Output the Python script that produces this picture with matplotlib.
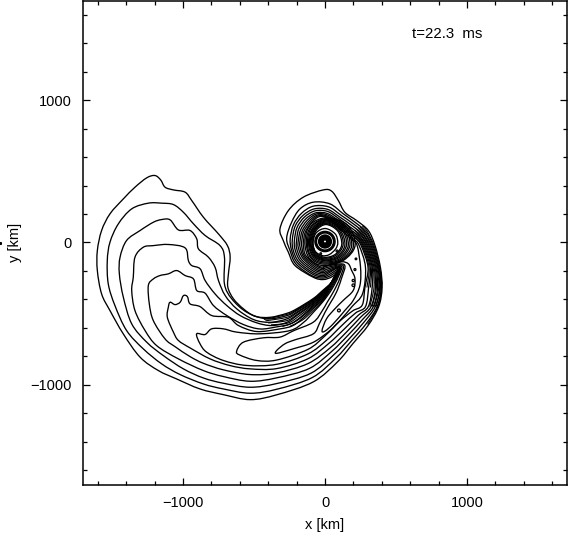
#!/usr/bin/env python3
"""Contour plot of a spiral density structure at t=22.3 ms."""

import matplotlib
matplotlib.use("Agg")
import matplotlib.pyplot as plt
from matplotlib.patches import Circle, PathPatch
from matplotlib.path import Path
from matplotlib.ticker import MultipleLocator
import numpy as np

# contour outlines in km
contour_1 = [(-1197,470),(-1157,439),(-1126,388),(-1067,369),(-985,353),(-938,294),(-856,177),(-750,60),(-687,-22),(-668,-103),(-680,-220),(-684,-314),(-644,-396),(-574,-466),(-492,-518),(-386,-525),(-268,-497),(-200,-466),(-82,-393),(-20,-340),(47,-279),(105,-197),(50,-240),(-12,-260),(-82,-244),(-211,-162),(-258,-68),(-294,14),(-317,96),(-258,224),(-153,318),(-12,369),(47,360),(94,294),(140,212),(223,154),(305,84),(352,-21),(390,-174),(402,-316),(378,-450),(303,-583),(197,-709),(88,-838),(-82,-978),(-340,-1069),(-527,-1103),(-715,-1068),(-880,-1028),(-1044,-958),(-1173,-899),(-1302,-805),(-1420,-642),(-1514,-478),(-1573,-361),(-1603,-197),(-1603,-57),(-1573,84),(-1514,201),(-1420,306),(-1338,388),(-1255,454)]
contour_2 = [(-1244,276),(-1150,276),(-1067,266),(-997,212),(-926,131),(-844,49),(-739,-22),(-708,-103),(-708,-291),(-656,-396),(-550,-490),(-410,-536),(-268,-513),(-200,-478),(-82,-404),(-15,-345),(40,-290),(100,-195),(40,-232),(-15,-250),(-94,-232),(-205,-150),(-245,-60),(-270,30),(-235,142),(-176,236),(-82,283),(35,271),(129,201),(211,142),(288,76),(338,-21),(380,-174),(395,-316),(367,-450),(290,-570),(187,-690),(76,-812),(-90,-948),(-340,-1030),(-527,-1058),(-715,-1028),(-856,-993),(-1020,-927),(-1150,-852),(-1279,-747),(-1397,-618),(-1479,-443),(-1526,-291),(-1533,-127),(-1514,2),(-1455,131),(-1361,236)]
contour_3 = [(-1150,161),(-1091,159),(-1032,88),(-950,84),(-903,25),(-891,-45),(-821,-103),(-774,-174),(-750,-267),(-703,-372),(-621,-466),(-503,-541),(-386,-560),(-268,-536),(-195,-492),(-82,-416),(-15,-355),(33,-300),(95,-190),(35,-222),(-15,-241),(-88,-222),(-195,-142),(-235,-55),(-245,25),(-222,125),(-165,205),(-82,255),(25,250),(115,190),(198,132),(275,68),(324,-21),(370,-174),(385,-316),(354,-450),(278,-555),(176,-670),(62,-788),(-100,-918),(-340,-990),(-527,-1016),(-715,-988),(-856,-951),(-997,-887),(-1138,-794),(-1255,-700),(-1361,-571),(-1420,-384),(-1448,-220),(-1443,-103),(-1397,14),(-1302,84),(-1209,142)]
contour_4 = [(-1279,-33),(-1209,-22),(-1103,-14),(-985,-38),(-962,-127),(-938,-162),(-879,-185),(-844,-267),(-774,-361),(-691,-443),(-597,-513),(-480,-564),(-374,-583),(-268,-560),(-190,-507),(-82,-430),(-12,-365),(28,-310),(92,-182),(30,-212),(-15,-232),(-85,-212),(-185,-135),(-225,-50),(-230,20),(-210,115),(-155,190),(-75,236),(20,232),(105,178),(185,122),(262,60),(310,-21),(358,-174),(370,-316),(340,-450),(265,-540),(163,-650),(50,-762),(-110,-884),(-340,-950),(-527,-974),(-715,-941),(-856,-899),(-1032,-817),(-1185,-724),(-1267,-618),(-1338,-478),(-1361,-337),(-1350,-244),(-1338,-103)]
contour_5 = [(-1162,-232),(-1103,-220),(-1044,-197),(-985,-232),(-926,-256),(-903,-337),(-844,-356),(-785,-443),(-691,-513),(-574,-576),(-457,-607),(-339,-592),(-245,-572),(-170,-522),(-82,-445),(-8,-378),(25,-318),(78,-228),(100,-175),(25,-205),(-15,-222),(-80,-202),(-175,-127),(-212,-45),(-215,18),(-197,105),(-145,178),(-70,222),(18,218),(97,168),(172,112),(250,52),(296,-21),(345,-174),(355,-316),(324,-450),(250,-525),(150,-630),(38,-738),(-120,-850),(-340,-915),(-527,-927),(-715,-894),(-856,-848),(-950,-801),(-1056,-731),(-1126,-677),(-1209,-548),(-1237,-431),(-1244,-302),(-1209,-256)]
contour_6 = [(-1091,-419),(-1056,-436),(-1020,-419),(-997,-373),(-969,-380),(-950,-431),(-880,-450),(-797,-513),(-680,-525),(-609,-583),(-480,-625),(-315,-606),(-230,-585),(-160,-535),(-82,-462),(-15,-400),(35,-325),(85,-235),(105,-170),(20,-197),(-15,-212),(-75,-192),(-165,-120),(-200,-40),(-200,15),(-185,95),(-135,166),(-65,208),(15,204),(90,158),(160,104),(237,45),(282,-21),(332,-174),(332,-316),(305,-450),(235,-510),(135,-608),(25,-710),(-120,-816),(-340,-885),(-527,-887),(-668,-864),(-809,-817),(-950,-740),(-1032,-688),(-1067,-630),(-1110,-525),(-1103,-454)]
contour_7 = [(-904,-641),(-845,-646),(-798,-606),(-716,-606),(-622,-629),(-458,-641),(-246,-618),(-150,-560),(-82,-490),(-12,-412),(47,-330),(94,-240),(115,-165),(15,-187),(-15,-202),(-70,-183),(-155,-112),(-188,-35),(-188,12),(-172,88),(-125,156),(-60,200),(12,195),(85,150),(150,98),(225,38),(268,-21),(318,-174),(307,-316),(285,-450),(215,-495),(118,-583),(12,-685),(-120,-782),(-340,-855),(-552,-863),(-716,-828),(-833,-770),(-880,-711)]
contour_8 = [(-622,-763),(-575,-700),(-434,-669),(-317,-664),(-223,-620),(-82,-559),(-20,-480),(15,-420),(60,-345),(105,-250),(125,-160),(10,-177),(-15,-192),(-65,-174),(-148,-105),(-176,-30),(-176,10),(-160,82),(-115,148),(-55,192),(10,187),(78,142),(142,92),(212,32),(254,-21),(303,-174),(281,-316),(262,-440),(195,-480),(100,-555),(0,-655),(-120,-750),(-340,-825),(-481,-828),(-600,-790)]
contour_9 = [(-340,-758),(-282,-711),(-211,-683),(-82,-641),(-40,-570),(0,-490),(40,-420),(80,-350),(115,-255),(135,-155),(5,-167),(-15,-182),(-60,-165),(-142,-98),(-164,-25),(-164,8),(-150,76),(-105,142),(-50,186),(8,181),(72,135),(135,85),(200,25),(240,-21),(285,-174),(265,-358),(190,-450),(106,-547),(35,-618),(-82,-700),(-223,-746),(-340,-778)]
contour_10 = [(-21,-618),(0,-622),(58,-571),(140,-477),(199,-406),(246,-301),(250,-172),(226,-21),(190,20),(125,78),(68,128),(8,175),(-45,180),(-98,135),(-140,70),(-152,5),(-152,-22),(-135,-92),(-55,-158),(-15,-172),(50,-150),(120,-135),(165,-150),(187,-195),(211,-254),(199,-336),(129,-406),(70,-465),(11,-535)]

# closed rings round the core, outer to inner
ring_11 = [(212,-20),(160,120),(20,174),(-100,128),(-142,5),(-108,-115),(-10,-162),(130,-125)]
ring_12 = [(200,-25),(150,115),(18,168),(-93,120),(-132,8),(-100,-108),(-8,-152),(125,-120)]
ring_13 = [(188,-22),(142,110),(15,162),(-88,116),(-124,3),(-95,-103),(-5,-144),(118,-116)]
ring_14 = [(176,-18),(133,104),(12,156),(-82,108),(-116,6),(-88,-96),(-6,-136),(108,-112)]
ring_15 = [(164,-20),(124,98),(12,150),(-78,104),(-110,4),(-84,-90),(-4,-128),(100,-106)]
ring_16 = [(152,-16),(115,94),(10,144),(-74,98),(-104,5),(-78,-86),(-4,-122),(92,-102)]
ring_17 = [(140,-18),(106,88),(10,138),(-70,94),(-98,2),(-74,-82),(-2,-116),(86,-96)]
ring_18 = [(128,-14),(98,84),(8,132),(-66,90),(-92,5),(-70,-78),(-2,-110),(80,-88)]
ring_19 = [(118,-15),(90,80),(8,126),(-62,84),(-86,3),(-65,-73),(0,-104),(74,-82)]
ring_20 = [(90,0),(72,60),(4,98),(-60,70),(-84,5),(-70,-60),(-20,-92),(30,-85),(75,-45)]

# extra lines in the dense band above the arm
band_a = [(-430,-540),(-268,-505),(-200,-472),(-82,-398),(-18,-342),(43,-284),(102,-196)]
band_b = [(-420,-550),(-268,-525),(-195,-485),(-82,-410),(-15,-350),(36,-295),(97,-192)]
band_c = [(-400,-565),(-268,-548),(-190,-500),(-82,-423),(-12,-360),(30,-305),(93,-186)]
band_d = [(-380,-578),(-260,-565),(-180,-514),(-82,-438),(-10,-372),(27,-314),(85,-205)]
band_e = [(-300,-590),(-200,-550),(-82,-454),(-12,-390),(30,-322),(82,-232),(103,-172)]
band_f = [(-250,-590),(-160,-545),(-82,-476),(-14,-406),(40,-328),(90,-238),(110,-168)]

# extra lines on the right side of the arm
right_a = [(262,118),(296,80),(345,-21),(385,-174),(398,-316),(372,-450),(300,-575)]
right_b = [(248,110),(281,72),(331,-21),(375,-174),(390,-316),(360,-450)]
right_c = [(235,102),(268,64),(317,-21),(364,-174),(378,-316),(347,-450)]
right_d = [(222,94),(256,56),(303,-21),(352,-174),(362,-316),(332,-450)]
right_e = [(210,86),(243,48),(289,-21),(338,-174),(345,-316),(315,-450)]
right_f = [(198,78),(231,42),(275,-21),(325,-174),(320,-316)]
right_g = [(186,70),(218,35),(261,-21),(310,-174),(295,-316)]

# core circles and the small closed islands
core_center = (0, 7)
core_radii = [12, 15, 18, 21, 24, 27, 30, 33, 36, 39, 42, 45, 60, 65, 71]
island_x = [98, 199, 199, 211, 218, -87, 85, -30]
island_y = [-477, -267, -300, -190, -115, -45, -60, -78]
island_r = [10, 8, 9, 7, 6, 8, 7, 6]

major_ticks = [-1000, 0, 1000]
tick_labels = ["\u22121000", "0", "1000"]
time_label = "t=22.3  ms"


def closed_path(points):
    # Catmull-Rom through the read points, as cubic beziers
    pts = np.array(points, dtype=float)
    n = len(pts)
    verts = [pts[0]]
    codes = [Path.MOVETO]
    for i in range(n):
        p0, p1, p2, p3 = pts[i - 1], pts[i], pts[(i + 1) % n], pts[(i + 2) % n]
        verts += [p1 + (p2 - p0) / 6, p2 - (p3 - p1) / 6, p2]
        codes += [Path.CURVE4] * 3
    return Path(verts, codes)


def open_path(points):
    pts = np.array(points, dtype=float)
    n = len(pts)
    verts = [pts[0]]
    codes = [Path.MOVETO]
    for i in range(n - 1):
        p0, p1, p2, p3 = pts[max(i - 1, 0)], pts[i], pts[i + 1], pts[min(i + 2, n - 1)]
        verts += [p1 + (p2 - p0) / 6, p2 - (p3 - p1) / 6, p2]
        codes += [Path.CURVE4] * 3
    return Path(verts, codes)


def main():
    plt.rcParams["font.family"] = ["Liberation Sans", "DejaVu Sans"]
    fig = plt.figure(figsize=(5.72, 5.36), dpi=100)
    ax = fig.add_axes([83 / 572, 51.3 / 536, 484 / 572, 483.7 / 536])

    contours = [contour_1, contour_2, contour_3, contour_4, contour_5,
                contour_6, contour_7, contour_8, contour_9, contour_10,
                ring_11, ring_12, ring_13, ring_14, ring_15, ring_16,
                ring_17, ring_18, ring_19, ring_20]
    for points in contours:
        ax.add_patch(PathPatch(closed_path(points), fill=False, ec="black", lw=0.95))

    extra_lines = [band_a, band_b, band_c, band_d, band_e, band_f,
                   right_a, right_b, right_c, right_d, right_e, right_f, right_g]
    for points in extra_lines:
        ax.add_patch(PathPatch(open_path(points), fill=False, ec="black", lw=0.8))

    for r in core_radii:
        ax.add_patch(Circle(core_center, r, fill=False, ec="black", lw=1.0))
    for x, y, r in zip(island_x, island_y, island_r):
        ax.add_patch(Circle((x, y), r, fill=False, ec="black", lw=0.9))

    ax.set_xlim(-1704, 1704)
    ax.set_ylim(-1700, 1695)
    ax.set_xticks(major_ticks, tick_labels)
    ax.set_yticks(major_ticks, tick_labels)
    ax.xaxis.set_minor_locator(MultipleLocator(200))
    ax.yaxis.set_minor_locator(MultipleLocator(200))
    ax.tick_params(which="major", direction="in", top=True, right=True,
                   length=5, width=0.9, labelsize=10.5, pad=8)
    ax.tick_params(which="minor", direction="in", top=True, right=True,
                   length=3, width=0.9)
    for spine in ax.spines.values():
        spine.set_linewidth(1.1)

    ax.set_xlabel("x [km]", fontsize=10.5, labelpad=6)
    ax.set_ylabel("y [km]", fontsize=10.5, labelpad=6)
    ax.text(610, 1460, time_label, fontsize=10.8, va="center")

    # stray speck left of the y label in the scan
    ax.plot([-2290], [-5], "s", ms=1.2, color="black", clip_on=False)

    fig.savefig("out.png", dpi=100)
    plt.close(fig)


if __name__ == "__main__":
    main()
